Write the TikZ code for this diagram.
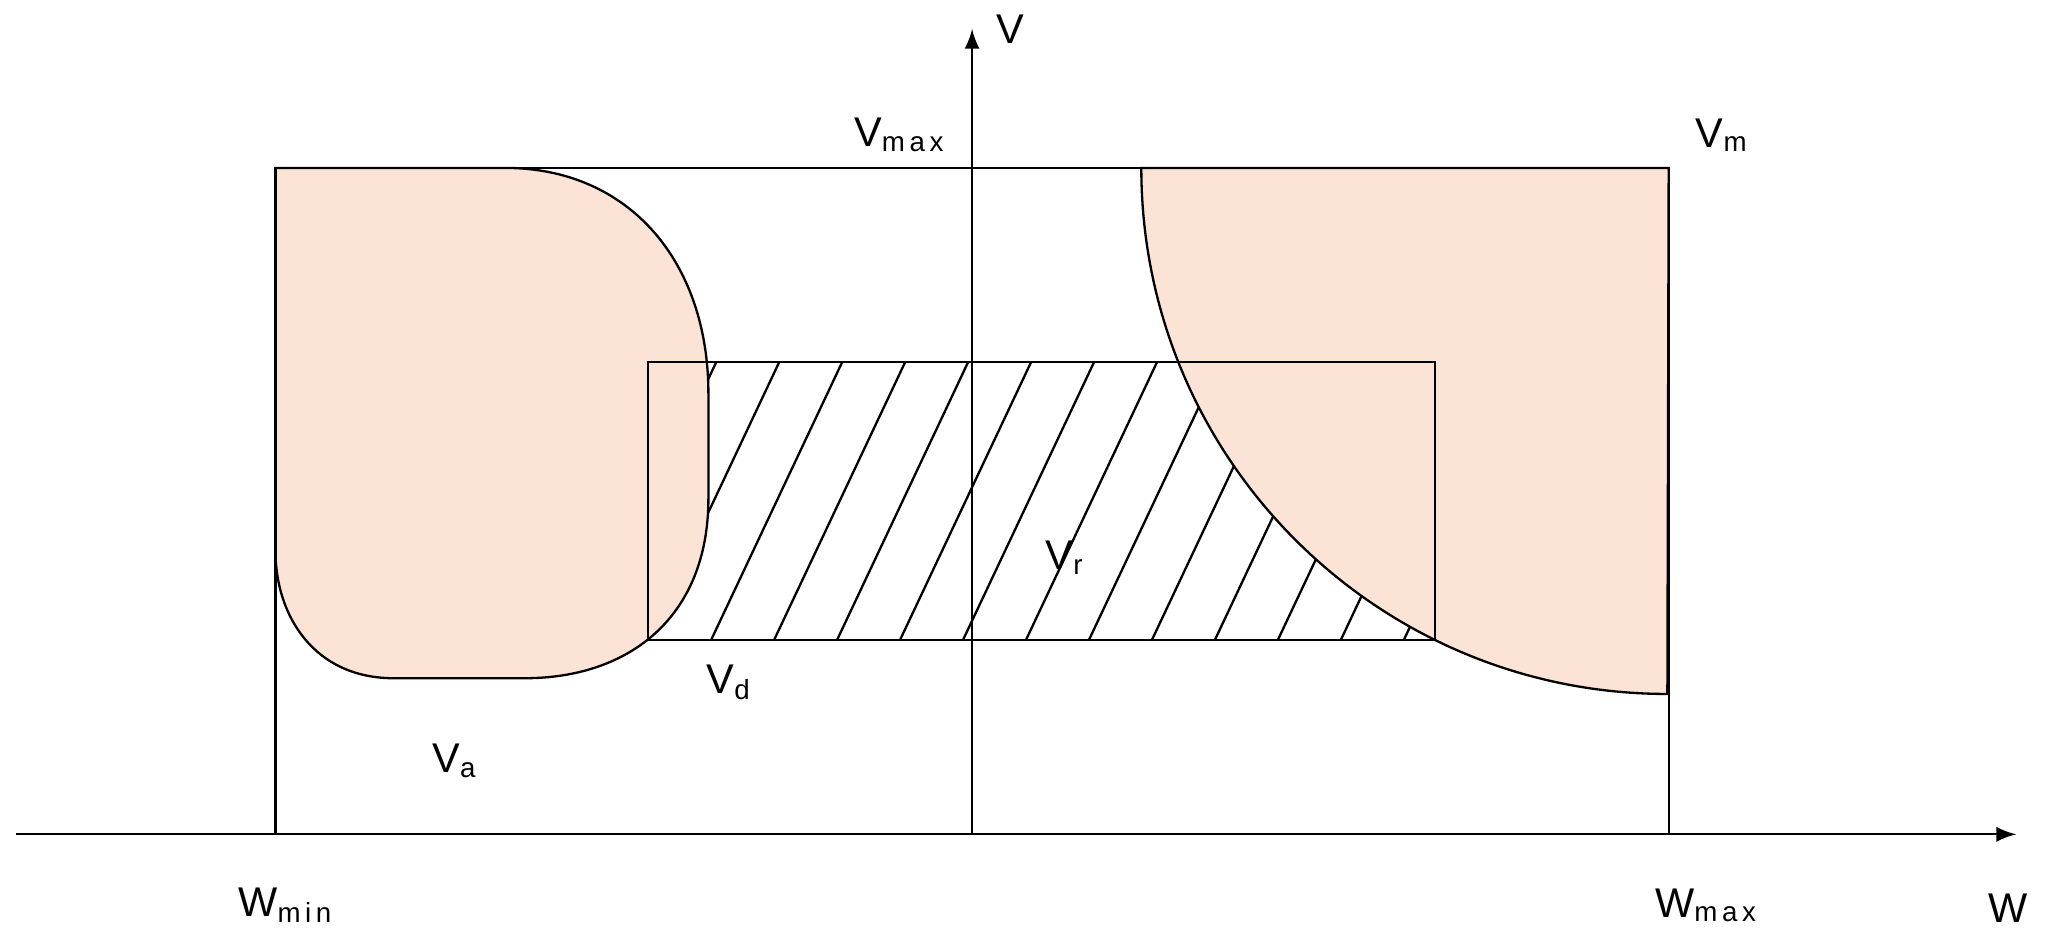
\documentclass[tikz,border=0pt]{standalone}
\usepackage{fontspec}
\setmainfont{Liberation Sans}
\begin{document}
\begin{tikzpicture}[x=0.01cm,y=-0.01cm,
  lbl/.style={font=\fontsize{9}{10}\selectfont, inner sep=0pt},
  peach/.style={fill=peachfill, draw=black, line width=0.5pt},
  thin/.style={line width=0.5pt}]
\definecolor{peachfill}{HTML}{FBE4D5}
\useasboundingbox (0,0) rectangle (1568,722);
% hatching
\begin{scope}
\clip (494,276) rectangle (1094,488);
\foreach \i in {-10,...,16} {
  \draw[thin] ({494+\i*48},488) -- ({594+\i*48},276);
}
\end{scope}
% left shape
\draw[peach] (210,128) -- (385,128) .. controls (480,128) and (540,200) .. (540,300)
  -- (540,380) .. controls (540,470) and (480,517) .. (400,517)
  -- (300,517) .. controls (240,517) and (210,470) .. (210,420) -- cycle;
% right shape
\draw[peach] (870,128) arc[start angle=180, end angle=90, radius=401] -- (1272,128) -- cycle;
% rects
\draw[thin] (494,276) rectangle (1094,488);
\draw[thin] (210,128) rectangle (1272,636);
% axes
\coordinate (xs) at (12,636); \coordinate (xe) at (1537,636);
\coordinate (ys) at (741,636); \coordinate (ye) at (741,22);
\draw[thin,-latex] (xs) -- (xe);
\draw[thin,-latex] (ys) -- (ye);
% labels
\node[lbl] (v) at (770,22) {V};
\node[lbl] (vmax) at (686,103) {V\textsubscript{m\,a\,x}};
\node[lbl] (vm) at (1313,103) {V\textsubscript{m}};
\node[lbl] (vr) at (812,425) {V\textsubscript{r}};
\node[lbl] (vd) at (556,520) {V\textsubscript{d}};
\node[lbl] (va) at (347,580) {V\textsubscript{a}};
\node[lbl] (wmin) at (218,690) {W\textsubscript{m\,i\,n}};
\node[lbl] (wmax) at (1301,690) {W\textsubscript{m\,a\,x}};
\node[lbl] (w) at (1531,692) {W};
\end{tikzpicture}
\end{document}
